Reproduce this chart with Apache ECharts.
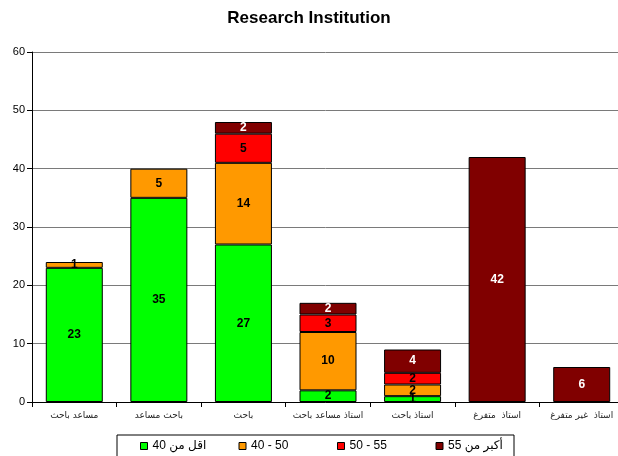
<!DOCTYPE html>
<html>
<head>
<meta charset="utf-8">
<script src="https://cdn.jsdelivr.net/npm/echarts@6/dist/echarts.min.js"></script>
<style>
  html, body { margin: 0; padding: 0; background: #fff; }
  #chart { width: 618px; height: 456px; }
</style>
</head>
<body>
<div id="chart"></div>
<script>
// Staff of the research institution by job grade, stacked by age group
const categories = ['مساعد باحث', 'باحث مساعد', 'باحث', 'استاذ مساعد باحث', 'استاذ باحث', 'استاذ  متفرغ', 'استاذ  غير متفرغ'];
const ageGroups = ['اقل من 40', '40 - 50', '50 - 55', 'أكبر من 55'];
const under40 = [23, 35, 27, 2, 1, 0, 0];
const from40to50 = [1, 5, 14, 10, 2, 0, 0];
const from50to55 = [0, 0, 5, 3, 2, 0, 0];
const over55 = [0, 0, 2, 2, 4, 42, 6];
const yTicks = [0, 10, 20, 30, 40, 50, 60];

const seriesValues = [under40, from40to50, from50to55, over55];
const colors = ['#00ff00', '#ff9900', '#ff0000', '#800000'];
const labelColors = ['#000', '#000', '#000', '#fff'];

const chart = echarts.init(document.getElementById('chart'), null, { renderer: 'canvas' });

const series = seriesValues.map((vals, i) => ({
  name: ageGroups[i],
  type: 'bar',
  stack: 'total',
  barWidth: 57,
  data: vals.map(v => (v === 0 ? null : v)),
  itemStyle: { color: colors[i], borderColor: '#000', borderWidth: 1 },
  label: {
    show: true,
    position: 'inside',
    color: labelColors[i],
    fontFamily: 'Liberation Sans, Arial, sans-serif',
    fontWeight: 'bold',
    fontSize: 12
  }
}));

chart.setOption({
  animation: false,
  backgroundColor: '#fff',
  title: {
    text: 'Research Institution',
    left: 'center',
    top: 5,
    textStyle: {
      fontFamily: 'Liberation Sans, Arial, sans-serif',
      fontWeight: 'bold',
      fontSize: 17,
      color: '#000'
    }
  },
  grid: { left: 32, width: 592, top: 52, bottom: 54, containLabel: false, outerBoundsMode: 'none' },
  legend: {
    data: ageGroups,
    left: 117,
    top: 435,
    orient: 'horizontal',
    icon: 'rect',
    itemWidth: 7,
    itemHeight: 7,
    itemGap: 30,
    padding: [5, 10, 6, 23],
    borderColor: '#000',
    borderWidth: 1,
    itemStyle: { borderColor: '#000', borderWidth: 1 },
    formatter: name => '{t|' + name + '}',
    textStyle: {
      fontFamily: 'Liberation Sans, DejaVu Sans, Arial, sans-serif',
      fontSize: 12,
      color: '#000',
      rich: {
        t: {
          width: 56,
          backgroundColor: 'rgba(255,255,255,0)',
          fontSize: 12,
          fontFamily: 'Liberation Sans, DejaVu Sans, Arial, sans-serif',
          color: '#000'
        }
      }
    }
  },
  xAxis: {
    type: 'category',
    data: categories,
    axisLine: { lineStyle: { color: '#000', width: 1 } },
    axisTick: { show: true, length: 5, alignWithLabel: false, lineStyle: { color: '#000' } },
    axisLabel: {
      interval: 0,
      margin: 9,
      fontSize: 9,
      color: '#222',
      fontFamily: 'DejaVu Sans, Liberation Sans, sans-serif'
    }
  },
  yAxis: {
    type: 'value',
    min: yTicks[0],
    max: yTicks[yTicks.length - 1],
    interval: 10,
    axisLine: { show: true, lineStyle: { color: '#000', width: 1 } },
    axisTick: { show: true, length: 5, inside: false, lineStyle: { color: '#000' } },
    axisLabel: {
      margin: 7,
      fontSize: 11,
      color: '#000',
      fontFamily: 'Liberation Sans, Arial, sans-serif'
    },
    splitLine: { show: true, lineStyle: { color: '#7a7a7a', width: 1 } }
  },
  series: series
});
</script>
</body>
</html>
